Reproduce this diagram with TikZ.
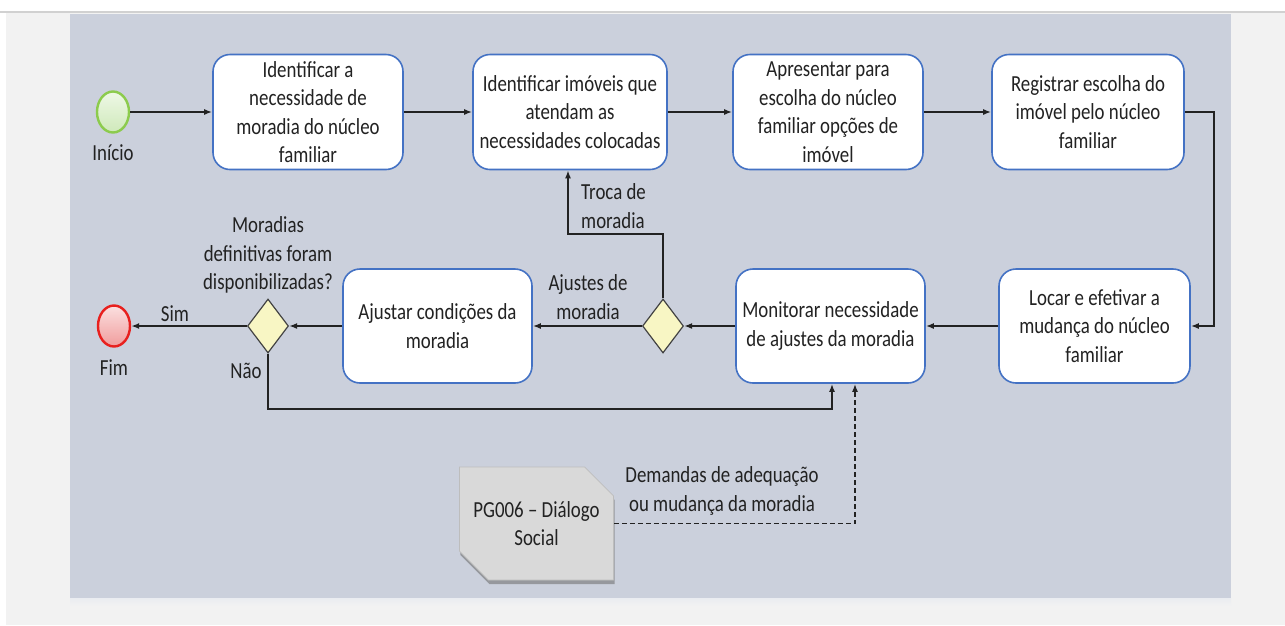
\documentclass[tikz,border=0pt]{standalone}
\usepackage{fontspec}
\setmainfont{Carlito}[FakeStretch=0.82]
\usetikzlibrary{arrows.meta,shapes.geometric,shapes.misc,shadows}
\definecolor{outerbg}{HTML}{F2F2F2}
\definecolor{panel}{HTML}{CBD0DC}
\definecolor{boxblue}{HTML}{4472C4}
\definecolor{ink}{HTML}{222222}
\definecolor{dfill}{HTML}{F8F6C4}
\definecolor{gline}{HTML}{8CCB4D}
\definecolor{gfillA}{HTML}{EEF8E6}
\definecolor{gfillB}{HTML}{CFE9BA}
\definecolor{rline}{HTML}{E8201E}
\definecolor{rfillA}{HTML}{FBE0E0}
\definecolor{rfillB}{HTML}{F09C9C}
\definecolor{pgfillc}{HTML}{D9D9D9}
\definecolor{pgline}{HTML}{BDBDBD}
\tikzset{
  every node/.style={text=ink, font=\fontsize{23}{28.5}\selectfont},
  box/.style={draw=boxblue, line width=1.6pt, fill=white, rounded corners=17pt,
    align=center, inner sep=2pt},
  gate/.style={diamond, draw=ink!85, line width=1.2pt, fill=dfill, inner sep=0pt,
    minimum width=41pt, minimum height=54pt},
  arr/.style={draw=ink, line width=1.6pt, -{Latex[length=8pt,width=6pt]}},
  lbl/.style={align=center, inner sep=0pt},
}
\begin{document}
\begin{tikzpicture}[x=1pt,y=-1pt]
\useasboundingbox (0,0) rectangle (1285,625);
% background
\fill[white] (0,0) rectangle (1285,625);
\fill[outerbg] (6,12) rectangle (1285,625);
\draw[black!18, line width=1.5pt] (0,12) -- (1285,12);
\fill[panel] (70,14) rectangle (1231,598);
\shade[top color=panel!40!white, bottom color=outerbg] (70,598) rectangle (1231,606);

% events
\node[ellipse, draw=gline, line width=2.4pt, top color=gfillA, bottom color=gfillB,
  minimum width=32pt, minimum height=41pt, inner sep=0pt] (start) at (113,112) {};
\node[lbl] (lstart) at (113,153) {Início};
\node[ellipse, draw=rline, line width=2.4pt, top color=rfillA, bottom color=rfillB,
  minimum width=32pt, minimum height=41pt, inner sep=0pt] (fim) at (114,326) {};
\node[lbl] (lfim) at (114,368) {Fim};

% top row
\node[box, minimum width=190pt, minimum height=115pt] (b1) at (308,112)
  {Identificar a\\necessidade de\\moradia do núcleo\\familiar};
\node[box, minimum width=194pt, minimum height=115pt] (b2) at (570,112)
  {Identificar imóveis que\\atendam as\\necessidades colocadas};
\node[box, minimum width=190pt, minimum height=115pt] (b3) at (828,112)
  {Apresentar para\\escolha do núcleo\\familiar opções de\\imóvel};
\node[box, minimum width=192pt, minimum height=115pt] (b4) at (1088,112)
  {Registrar escolha do\\imóvel pelo núcleo\\familiar};

% bottom row
\node[box, minimum width=191pt, minimum height=114pt] (b5) at (1094.5,326)
  {Locar e efetivar a\\mudança do núcleo\\familiar};
\node[box, minimum width=189pt, minimum height=114pt] (b6) at (830.5,326)
  {Monitorar necessidade\\de ajustes da moradia};
\node[gate] (d1) at (663,326) {};
\node[box, minimum width=189pt, minimum height=114pt] (b7) at (437.5,326)
  {Ajustar condições da\\moradia};
\node[gate] (d2) at (268,326) {};

% PG006
\node[chamfered rectangle, chamfered rectangle corners={north east,south west},
  chamfered rectangle xsep=14pt, chamfered rectangle ysep=15pt,
  draw=pgline, line width=0.8pt, fill=pgfillc, align=center, inner sep=0pt,
  minimum width=153pt, minimum height=113pt,
  drop shadow={shadow xshift=1pt, shadow yshift=-4pt, fill=black!55, opacity=0.6}]
  (pg) at (536.5,523.5) {PG006 – Diálogo\\Social};

% labels
\node[lbl] (lsim) at (175,314) {Sim};
\node[lbl] (lnao) at (246,371) {Não};
\node[lbl] (lq) at (268,255) {Moradias\\definitivas foram\\disponibilizadas?};
\node[lbl] (laj) at (588,297) {Ajustes de\\moradia};
\node[lbl, anchor=west, align=left] (ltr) at (581,206) {Troca de\\moradia};
\node[lbl] (ldem) at (722,491) {Demandas de adequação\\ou mudança da moradia};

% connectors
\draw[arr] (start.east) -- (start.east -| b1.west);
\draw[arr] (b1.east) -- (b2.west);
\draw[arr] (b2.east) -- (b3.west);
\draw[arr] (b3.east) -- (b4.west);
\coordinate (rc) at (1214,112);
\draw[arr] (b4.east) -- (rc) |- (b5.east);
\draw[arr] (b5.west) -- (b6.east);
\draw[arr] (b6.west) -- (d1.east);
\draw[arr] (d1.west) -- (b7.east);
\coordinate (tc) at (568,234);
\draw[arr] (d1.north) |- (tc) -- (tc |- b2.south);
\draw[arr] (b7.west) -- (d2.east);
\draw[arr] (d2.west) -- (fim.east);
\coordinate (nc) at (832,409);
\draw[arr] (d2.south) |- (nc) -- (nc |- b6.south);
\coordinate (dc) at (855,524);
\draw[arr, dash pattern=on 5pt off 3pt] (pg.east) -- (pg.east -| dc) -- (dc |- b6.south);
\end{tikzpicture}
\end{document}
